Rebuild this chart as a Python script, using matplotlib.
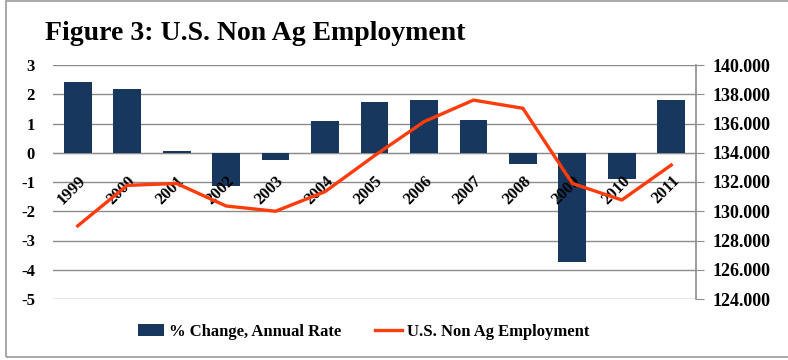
import matplotlib.pyplot as plt
from matplotlib.patches import Rectangle
from matplotlib.transforms import ScaledTranslation
from matplotlib.ticker import FuncFormatter
import numpy as np

plt.rcParams['font.family'] = ['Liberation Serif', 'DejaVu Serif']
plt.rcParams['font.weight'] = 'bold'
plt.rcParams['axes.unicode_minus'] = False

# data
years = ['1999', '2000', '2001', '2002', '2003', '2004', '2005',
         '2006', '2007', '2008', '2009', '2010', '2011']
pct_change = [2.43, 2.17, 0.05, -1.13, -0.25, 1.07, 1.72,
              1.79, 1.11, -0.40, -3.72, -0.90, 1.79]
employment = [129.0, 131.77, 131.9, 130.36, 130.0, 131.34, 133.8,
              136.12, 137.6, 137.04, 131.9, 130.77, 133.16]

bar_color = '#17375e'
line_color = '#ff3c0a'
grid_color = '#8c8c8c'

fig = plt.figure(figsize=(7.88, 3.6), dpi=100)
ax = fig.add_axes([53 / 788, 1 - 299 / 360, (696 - 53) / 788, 234 / 360])
ax2 = ax.twinx()

x = np.arange(len(years))
ax.bar(x, pct_change, width=0.56, color=bar_color, zorder=3,
       label='% Change, Annual Rate')
ax.set_xlim(-0.5, len(years) - 0.5)
ax.set_ylim(-5, 3)
ax.set_yticks(range(-5, 4))
ax.yaxis.grid(True, color=grid_color, linewidth=1.0, zorder=0)
ax.set_axisbelow(True)

# category axis sits on the zero line
ax.spines['bottom'].set_position(('data', 0))
ax.spines['bottom'].set_color(grid_color)
for side in ['left', 'top', 'right']:
    ax.spines[side].set_visible(False)
ax.set_xticks(x)
ax.set_xticklabels([])
ax.tick_params(axis='x', length=0)
ax.tick_params(axis='y', length=0, labelsize=12, pad=13)

# year labels drawn on top of the bars
shift = ScaledTranslation(0.0, -0.2, fig.dpi_scale_trans)
for i, yr in enumerate(years):
    ax.text(i, 0, yr, rotation=45, ha='right', va='top',
            rotation_mode='anchor', fontsize=12, zorder=5,
            transform=ax.transData + shift)

ax2.plot(x, employment, color=line_color, linewidth=2.4, zorder=4,
         label='U.S. Non Ag Employment')
ax2.set_ylim(124, 140)
ax2.set_yticks(range(124, 141, 2))
ax2.yaxis.set_major_formatter(FuncFormatter(lambda v, p: f'{int(v)}.000'))
for side in ['left', 'top', 'bottom']:
    ax2.spines[side].set_visible(False)
ax2.spines['right'].set_color(grid_color)
ax2.spines['right'].set_linewidth(1.2)
ax2.tick_params(axis='y', direction='out', length=6, color=grid_color,
                labelsize=13, pad=6)

fig.text(45 / 788, 1 - 34 / 360, 'Figure 3: U.S. Non Ag Employment',
         fontsize=20, fontweight='bold', va='center', ha='left')

h1, l1 = ax.get_legend_handles_labels()
h2, l2 = ax2.get_legend_handles_labels()
fig.legend(h1 + h2, l1 + l2, loc='center', bbox_to_anchor=(0.461, 1 - 332 / 360),
           ncol=2, frameon=False, fontsize=12, columnspacing=2.0,
           handlelength=1.6, handletextpad=0.3)

# outer frame
fig.patches.append(Rectangle((6 / 788, 3 / 360), 1.0, 356 / 360,
                             transform=fig.transFigure, fill=False,
                             edgecolor='#9a9a9a', linewidth=1.2))

fig.savefig('out.png', dpi=100)
